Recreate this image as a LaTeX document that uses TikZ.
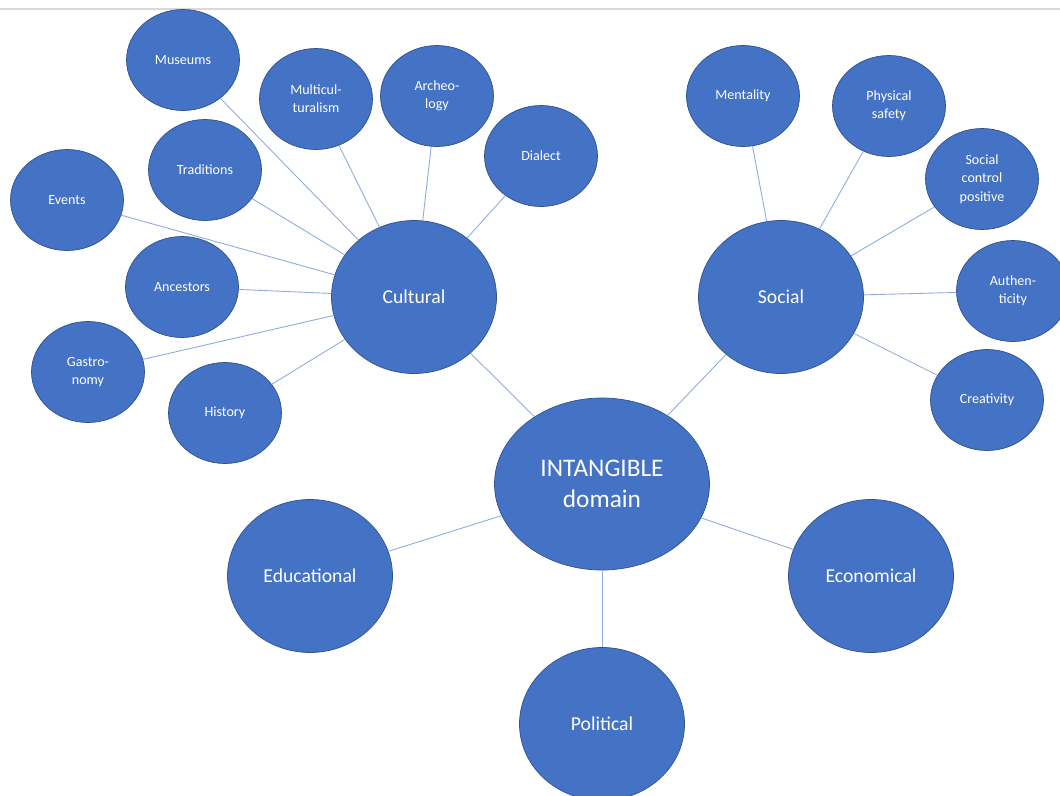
\documentclass[tikz,border=0pt]{standalone}
\usepackage{fontspec}
\setmainfont{Carlito}
\usetikzlibrary{shapes.geometric}
\definecolor{officeblue}{HTML}{4472C4}
\definecolor{edgeblue}{HTML}{2F528F}
\definecolor{linkblue}{HTML}{8FAADC}
\definecolor{rulegrey}{HTML}{D9D9D9}

\begin{document}
\begin{tikzpicture}[x=0.2mm, y=-0.2mm,
    leaf/.style={ellipse, draw=edgeblue, line width=0.4pt, fill=officeblue, text=white,
                 minimum width=2.26cm, minimum height=2.02cm, inner sep=0pt, align=center,
                 font=\fontsize{8}{10.4}\selectfont},
    hub/.style={leaf, minimum width=3.3cm, minimum height=3.06cm,
                font=\fontsize{11.2}{13.5}\selectfont},
    core/.style={leaf, minimum width=4.3cm, minimum height=3.44cm,
                 font=\fontsize{14.4}{17.6}\selectfont},
    link/.style={linkblue, line width=0.5pt}]
\useasboundingbox (0,0) rectangle (1060,796);
\clip (0,0) rectangle (1060,796);
\draw[rulegrey, line width=0.8pt] (0,9) -- (1060,9);

% Cultural branch
\node[hub] (cult) at (414,297) {Cultural};
\node[leaf] (muse) at (183,60) {Museums};
\node[leaf] (multi) at (316,99) {Multicul-\\turalism};
\node[leaf] (arch) at (437,96) {Archeo-\\logy};
\node[leaf] (dial) at (541,156) {Dialect};
\node[leaf] (trad) at (205,170) {Traditions};
\node[leaf] (even) at (67,200) {Events};
\node[leaf] (ance) at (182,287) {Ancestors};
\node[leaf] (gast) at (88,372) {Gastro-\\nomy};
\node[leaf] (hist) at (225,413) {History};
\draw[link] (muse) -- (cult);
\draw[link] (multi) -- (cult);
\draw[link] (arch) -- (cult);
\draw[link] (dial) -- (cult);
\draw[link] (trad) -- (cult);
\draw[link] (even) -- (cult);
\draw[link] (ance) -- (cult);
\draw[link] (gast) -- (cult);
\draw[link] (hist) -- (cult);

% Social branch
\node[hub] (soc) at (781,297) {Social};
\node[leaf] (ment) at (743,96) {Mentality};
\node[leaf] (phys) at (889,106) {Physical\\safety};
\node[leaf] (ctrl) at (982,179) {Social\\control\\positive};
\node[leaf] (auth) at (1013,291) {Authen-\\ticity};
\node[leaf] (crea) at (987,400) {Creativity};
\draw[link] (ment) -- (soc);
\draw[link] (phys) -- (soc);
\draw[link] (ctrl) -- (soc);
\draw[link] (auth) -- (soc);
\draw[link] (crea) -- (soc);

% core
\node[core] (core) at (602,484) {INTANGIBLE\\domain};
\node[hub] (edu) at (310,576) {Educational};
\node[hub] (eco) at (871,576) {Economical};
\node[hub] (pol) at (602,724) {Political};
\draw[link] (cult) -- (core);
\draw[link] (soc) -- (core);
\draw[link] (edu) -- (core);
\draw[link] (eco) -- (core);
\draw[link] (pol) -- (core);
\end{tikzpicture}
\end{document}
